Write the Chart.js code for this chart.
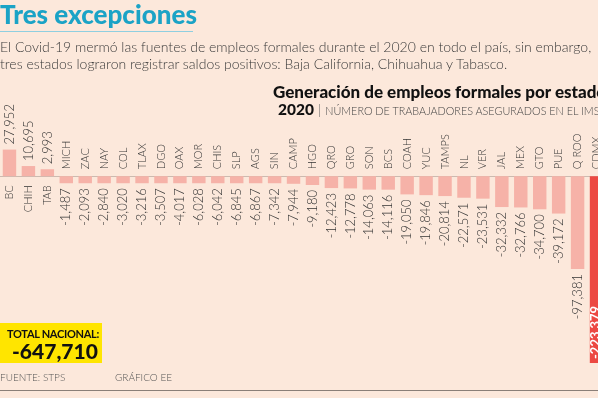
<!DOCTYPE html>
<html lang="es">
<head>
<meta charset="utf-8">
<title>Tres excepciones</title>
<script src="https://cdn.jsdelivr.net/npm/chart.js@4.4.1/dist/chart.umd.min.js"></script>
<style>
  html, body { margin: 0; padding: 0; }
  body {
    width: 598px; height: 398px; overflow: hidden; position: relative;
    background: #fce8db; color: #333; font-family: Lato, "Open Sans", sans-serif;
  }
  #chart { position: absolute; left: 0; top: 0; }
  .title { position: absolute; left: 0; top: 0; font-size: 26px; line-height: 28px; font-weight: 900; color: #1ba3c6; white-space: nowrap; }
  .rule { position: absolute; left: 0; top: 31px; width: 193px; height: 1px; background: #8fcfe0; }
  .intro { position: absolute; left: 0; top: 38px; font-size: 14px; line-height: 17px; font-weight: 300; color: #3a3a3a; white-space: nowrap; }
  .head { position: absolute; left: 273px; top: 81px; font-size: 17px; font-weight: 900; color: #111; white-space: nowrap; }
  .sub { position: absolute; left: 278px; top: 100px; font-size: 10.8px; font-weight: 300; color: #444; white-space: nowrap; }
  .sub b { font-size: 15.5px; font-weight: 900; color: #111; }
  .sub .bar { font-size: 14px; margin: 0 4px; color: #666; }
  .total { position: absolute; left: 0; top: 323px; width: 102px; height: 40px; background: #ffe500; color: #111; }
  .total .t1 { position: absolute; left: 7px; top: 4px; font-size: 11px; font-weight: 700; letter-spacing: -0.3px; white-space: nowrap; }
  .total .t2 { position: absolute; left: 12px; top: 15px; font-size: 21px; font-weight: 900; white-space: nowrap; }
  .foot { position: absolute; top: 371px; font-size: 10px; font-weight: 300; color: #555; white-space: nowrap; }
  .line { position: absolute; left: 0; top: 390px; width: 598px; height: 1px; background: #8a7f78; }
</style>
</head>
<body>
<canvas id="chart" width="606" height="398"></canvas>

<div class="title">Tres excepciones</div>
<div class="rule"></div>
<div class="intro">El Covid-19 mermó las fuentes de empleos formales durante el 2020 en todo el país, sin embargo,<br>tres estados lograron registrar saldos positivos: Baja California, Chihuahua y Tabasco.</div>
<div class="head">Generación de empleos formales por estado</div>
<div class="sub"><b>2020</b><span class="bar">|</span>NÚMERO DE TRABAJADORES ASEGURADOS EN EL IMSS</div>
<div class="total"><div class="t1">TOTAL NACIONAL:</div><div class="t2">-647,710</div></div>
<div class="foot" style="left:0">FUENTE: STPS</div>
<div class="foot" style="left:115px">GRÁFICO EE</div>
<div class="line"></div>

<script>
// datos por estado, 2020
const estados = ["BC", "CHIH", "TAB", "MICH", "ZAC", "NAY", "COL", "TLAX", "DGO", "OAX",
  "MOR", "CHIS", "SLP", "AGS", "SIN", "CAMP", "HGO", "QRO", "GRO", "SON",
  "BCS", "COAH", "YUC", "TAMPS", "NL", "VER", "JAL", "MEX", "GTO", "PUE", "Q ROO", "CDMX"];
const empleos = [27952, 10695, 2993, -1487, -2093, -2840, -3020, -3216, -3507, -4017,
  -6028, -6042, -6845, -6867, -7342, -7944, -9180, -12423, -12778, -14063,
  -14116, -19050, -19846, -20814, -22571, -23531, -32332, -32766, -34700, -39172, -97381, -223379];

const rosa = "#f6b2a8";
const rojo = "#ec4943";
const colores = estados.map(e => e === "CDMX" ? rojo : rosa);

function vtext(ctx, txt, x, y, align, font, color) {
  ctx.save();
  ctx.translate(x, y);
  ctx.rotate(-Math.PI / 2);
  ctx.textAlign = align;
  ctx.textBaseline = "middle";
  ctx.font = font;
  ctx.fillStyle = color;
  ctx.fillText(txt, 0, 0);
  ctx.restore();
}

const etiquetas = {
  id: "etiquetas",
  beforeDatasetsDraw(chart) {
    const ctx = chart.ctx;
    const y0 = Math.round(chart.scales.y.getPixelForValue(0)) + 0.5;
    ctx.save();
    ctx.strokeStyle = "#cbbab0";
    ctx.lineWidth = 1;
    ctx.beginPath();
    ctx.moveTo(0, y0);
    ctx.lineTo(598, y0);
    ctx.stroke();
    ctx.restore();
  },
  afterDatasetsDraw(chart) {
    const ctx = chart.ctx;
    const area = chart.chartArea;
    const y0 = chart.scales.y.getPixelForValue(0);
    const fEstado = "300 11px Lato, sans-serif";
    const fValor = "300 13px Lato, sans-serif";
    chart.getDatasetMeta(0).data.forEach((bar, i) => {
      const v = empleos[i];
      const txt = v.toLocaleString("en-US");
      if (v >= 0) {
        vtext(ctx, txt, bar.x, bar.y - 5, "left", fValor, "#333");
        vtext(ctx, estados[i], bar.x, y0 + 9, "right", fEstado, "#333");
      } else {
        vtext(ctx, estados[i], bar.x, y0 - 7, "left", fEstado, "#333");
        if (bar.y > area.bottom) {
          // barra cortada: el valor va dentro
          vtext(ctx, txt, bar.x - 1, area.bottom - 4, "left", "700 13px Lato, sans-serif", "#fff");
        } else {
          vtext(ctx, txt, bar.x, bar.y + 5, "right", fValor, "#333");
        }
      }
    });
  }
};

new Chart(document.getElementById("chart"), {
  type: "bar",
  data: {
    labels: estados,
    datasets: [{
      data: empleos,
      backgroundColor: colores,
      barPercentage: 0.71,
      categoryPercentage: 1,
      minBarLength: 7
    }]
  },
  options: {
    responsive: false,
    animation: false,
    devicePixelRatio: 1,
    layout: { padding: { top: 100, bottom: 35, left: 0, right: 0 } },
    plugins: { legend: { display: false }, tooltip: { enabled: false } },
    scales: {
      x: { display: false },
      y: { display: false, min: -196000, max: 80000 }
    }
  },
  plugins: [etiquetas]
});
</script>
</body>
</html>
